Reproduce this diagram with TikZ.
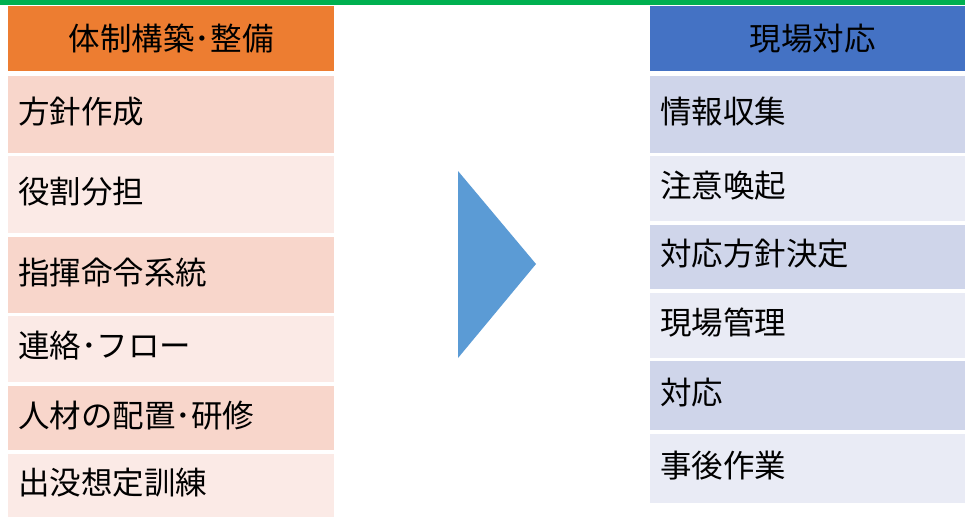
\documentclass[tikz,border=0pt]{standalone}
\usepackage{fontspec}
\setmainfont{Noto Sans CJK JP}
\definecolor{hdrL}{HTML}{ED7D31}
\definecolor{darkL}{HTML}{F8D6CB}
\definecolor{liteL}{HTML}{FBEAE6}
\definecolor{hdrR}{HTML}{4472C4}
\definecolor{darkR}{HTML}{CFD5EA}
\definecolor{liteR}{HTML}{E9EBF5}
\definecolor{tri}{HTML}{5B9BD5}
\definecolor{topline}{HTML}{00B050}
\begin{document}
\begin{tikzpicture}[x=1pt,y=-1pt,
  cell/.style={rectangle, anchor=north west, inner xsep=10pt, inner ysep=0pt,
    align=left, font=\fontsize{31.5}{36}\selectfont, text=black,
    text height=27pt, text depth=9pt},
  hdr/.style={rectangle, anchor=north west, inner sep=0pt, align=center,
    font=\fontsize{31.5}{36}\selectfont, text=black},
  lcell/.style={cell, text width=306pt},
  rcell/.style={cell, text width=305pt}
]
\useasboundingbox[fill=white] (0,0) rectangle (965,517);
\fill[topline] (0,0) rectangle (965,4.5);
% left table
\node[hdr, fill=hdrL, minimum width=326pt, minimum height=65pt] (lh) at (8,6) {体制構築･整備};
\node[lcell, fill=darkL, minimum height=77.5pt] (l1) at (8,75.5) {方針作成};
\node[lcell, fill=liteL, minimum height=77.5pt] (l2) at (8,155.5) {役割分担};
\node[lcell, fill=darkL, minimum height=76pt] (l3) at (8,237) {指揮命令系統};
\node[lcell, fill=liteL, minimum height=65.5pt] (l4) at (8,316) {連絡･フロー};
\node[lcell, fill=darkL, minimum height=64pt] (l5) at (8,386) {人材の配置･研修};
\node[lcell, fill=liteL, minimum height=63pt] (l6) at (8,454) {出没想定訓練};
% arrow triangle
\fill[tri] (458,171) -- (536,264) -- (458,358) -- cycle;
% right table
\node[hdr, fill=hdrR, minimum width=325pt, minimum height=65pt] (rh) at (650,6) {現場対応};
\node[rcell, fill=darkR, minimum height=77pt] (r1) at (650,75.5) {情報収集};
\node[rcell, fill=liteR, minimum height=65.5pt] (r2) at (650,155.5) {注意喚起};
\node[rcell, fill=darkR, minimum height=64pt] (r3) at (650,224.3) {対応方針決定};
\node[rcell, fill=liteR, minimum height=65.5pt] (r4) at (650,292.3) {現場管理};
\node[rcell, fill=darkR, minimum height=69pt] (r5) at (650,361) {対応};
\node[rcell, fill=liteR, minimum height=69.5pt] (r6) at (650,433.3) {事後作業};
\end{tikzpicture}
\end{document}
